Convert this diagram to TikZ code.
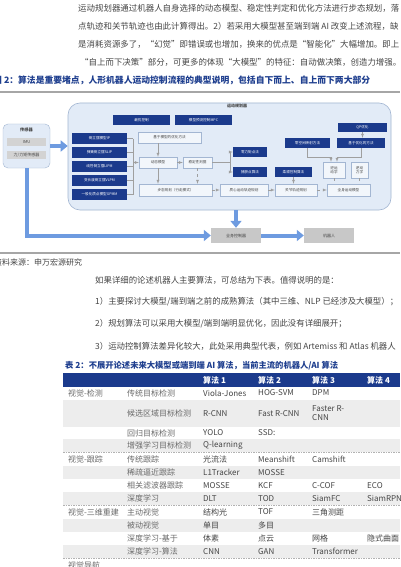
\documentclass[tikz,border=0pt]{standalone}
\usepackage{fontspec}
\setmainfont{Noto Sans CJK SC}
\usetikzlibrary{positioning,arrows.meta}

\definecolor{navy}{HTML}{1B3A8C}
\definecolor{panel}{HTML}{E2EBF7}
\definecolor{panelline}{HTML}{A3B6D2}
\definecolor{flowblue}{HTML}{6E9BE0}
\definecolor{boxgray}{HTML}{C8C8C8}
\definecolor{rowgray}{HTML}{EDEDED}
\definecolor{txt}{HTML}{454545}
\definecolor{celltxt}{HTML}{6A6A6A}
\definecolor{captxt}{HTML}{1F3F8F}

\tikzset{
  navybox/.style={fill=navy,text=white,inner sep=0pt,font=\fontsize{3.6}{4.2}\selectfont},
  lightbox/.style={fill=white!55!panel,draw=panelline,line width=0.4pt,inner sep=0pt,text=txt,align=center,font=\fontsize{3.6}{4.2}\selectfont},
  graybox/.style={fill=boxgray,inner sep=0pt,text=txt,font=\fontsize{4}{5}\selectfont},
  flow/.style={draw=flowblue,line width=4pt,-{Triangle[length=7pt,width=11pt]}},
  link/.style={draw=gray!75,line width=0.4pt},
  body/.style={anchor=west,inner sep=0pt,text=txt,font=\fontsize{8.45}{10}\selectfont},
  cell/.style={anchor=west,inner sep=0pt,text=celltxt,align=left,font=\fontsize{8}{9}\selectfont}
}

\begin{document}
\begin{tikzpicture}[x=1pt,y=-1pt]
  \useasboundingbox[fill=white] (0,0) rectangle (400,567);

  % text above the figure
  \node[body] (p1) at (78,8) {运动规划器通过机器人自身选择的动态模型、稳定性判定和优化方法进行步态规划，落};
  \node[body] (p2) at (78,26) {点轨迹和关节轨迹也由此计算得出。2）若采用大模型甚至端到端 AI 改变上述流程，缺};
  \node[body] (p3) at (78,44) {是消耗资源多了，“幻觉”即错误或也增加，换来的优点是“智能化”大幅增加。即上};
  \node[body] (p4) at (80,62) {“自上而下决策”部分，可更多的体现“大模型”的特征：自动做决策，创造力增强。};

  \node[body,text=captxt,font=\bfseries\fontsize{8.8}{10}\selectfont] (cap) at (-7,80)
    {图 2：算法是重要堵点，人形机器人运动控制流程的典型说明，包括自下而上、自上而下两大部分};
  \draw[gray!70,line width=1.2pt] (0,92) -- (400,92);

  % sensors
  \node[fill=panel,draw=panelline,rounded corners=5pt,minimum width=47,minimum height=44] (sensor) at (26.5,146) {};
  \node[inner sep=0pt,text=txt,font=\bfseries\fontsize{4.2}{5}\selectfont] (sensortitle) at (26.5,130) {传感器};
  \node[graybox,fill=boxgray!80,minimum width=39,minimum height=8] (imu) at (26.5,142) {IMU};
  \node[graybox,fill=boxgray!80,minimum width=39,minimum height=8] (force) at (26.5,155) {力/力矩传感器};

  % motion planner
  \node[fill=panel,draw=panelline,line width=0.6pt,rounded corners=12pt,minimum width=323,minimum height=107] (panel) at (229.5,156.5) {};
  \node[inner sep=0pt,text=txt,font=\bfseries\fontsize{4}{5}\selectfont] (plannertitle) at (237,106) {运动规划器};

  \node[navybox,minimum width=57,minimum height=10] (opt) at (141.5,120) {最优控制};
  \node[navybox,minimum width=57,minimum height=10] (mpc) at (203.5,120) {模型预测控制MPC};

  \foreach \yy/\name [count=\i] in {138.5/倒立摆模型IP, 152.5/弹簧倒立摆SLIP, 166.5/线性倒立摆LIPM, 180.5/变长度倒立摆VLPM, 194.5/一般化质点模型GPMM} {
    \node[navybox,minimum width=55,minimum height=11] (m\i) at (99.5,\yy) {\name};
    \draw[link] (m\i.east) -- ++(6,0);
  }
  \draw[link] (133,138.5) -- (133,194.5);

  \node[lightbox,minimum width=63,minimum height=11] (mbo) at (169.5,137.5) {基于模型的优化方法};
  \node[lightbox,minimum width=38,minimum height=11] (dyn) at (158,162.5) {动态模型};
  \node[lightbox,minimum width=29,minimum height=11] (stab) at (197.5,162.5) {稳定性判据};
  \node[lightbox,minimum width=73,minimum height=12] (gait) at (175.5,190) {步态规划（行走模式）};

  \node[navybox,minimum width=34,minimum height=10] (zmp) at (250,152) {零力矩点法};
  \node[navybox,minimum width=34,minimum height=10] (cp) at (250,172) {捕获点算法};

  \node[lightbox,minimum width=48,minimum height=12] (com) at (244,190) {质心运动轨迹规划};
  \node[lightbox,minimum width=42,minimum height=12] (joint) at (296,190) {关节轨迹规划};
  \node[lightbox,minimum width=43,minimum height=12] (whole) at (348.5,190) {全身运动模型};

  \node[navybox,minimum width=37,minimum height=10] (comp) at (293.5,172) {柔顺控制算法};
  \node[navybox,minimum width=45,minimum height=10] (nsm) at (307.5,143) {零空间映射方法};
  \node[navybox,minimum width=49,minimum height=9] (qp) at (362.5,127.5) {QP优化};
  \node[navybox,minimum width=48,minimum height=10] (obm) at (361,143) {基于优化的方法};
  \node[lightbox,minimum width=22,minimum height=16] (ik) at (334,170) {逆运\\动学};
  \node[lightbox,minimum width=17,minimum height=16] (id) at (359.5,170) {逆动\\力学};

  % thin connectors
  \draw[link,-latex] (133,162.5) -- (dyn.west);
  \draw[link,-latex] (mbo.south -| dyn.north) -- (dyn.north);
  \draw[link,-latex] (dyn.south) -- (dyn.south |- gait.north);
  \draw[link,dashed,-latex] (dyn.east) -- (stab.west);
  \draw[link,dashed,-latex] (stab.south) -- (stab.south |- gait.north);
  \draw[link] (stab.east) -- (230,162.5);
  \draw[link] (230,152) -- (230,172);
  \draw[link,-latex] (230,152) -- (zmp.west);
  \draw[link,-latex] (230,172) -- (cp.west);
  \draw[link,dashed,-latex] (gait.east) -- (com.west);
  \draw[link,dashed,-latex] (com.east) -- (joint.west);
  \draw[link,dashed,-latex] (joint.east) -- (whole.west);
  \draw[link,-latex] (comp.south) -- (comp.south |- joint.north);
  \draw[link,-latex] (nsm.south) |- (331,157) -- ([xshift=-3pt]ik.north);
  \draw[link,-latex] (obm.south) |- (337,157) -- ([xshift=3pt]ik.north);
  \draw[link,-latex] (qp.south) -- (qp.south |- obm.north);
  \draw[link,dashed] (ik.south) -- (ik.south |- whole.north);
  \draw[link,dashed] (id.south) -- (id.south |- whole.north);

  % whole body control
  \node[graybox,minimum width=50,minimum height=15] (wbc) at (236,235.5) {全身控制器};
  \node[graybox,minimum width=50,minimum height=15] (robot) at (329,235.5) {机器人};

  \draw[flow] (sensor.east) -- (sensor.east -| panel.west);
  \draw[flow] (panel.south -| wbc.north) -- (wbc.north);
  \draw[flow] (sensor.south) |- (wbc.west);
  \draw[flow] (wbc.east) -- (robot.west);

  \draw[gray!70,line width=1.2pt] (0,253) -- (400,253);
  \node[body,font=\fontsize{8}{9}\selectfont] (src) at (-6,262) {资料来源：申万宏源研究};

  % text below the figure
  \node[body,font=\fontsize{8.4}{9.5}\selectfont] (q1) at (95,280) {如果详细的论述机器人主要算法，可总结为下表。值得说明的是：};
  \node[body,font=\fontsize{8.4}{9.5}\selectfont] (q2) at (95,302) {1）主要探讨大模型/端到端之前的成熟算法（其中三维、NLP 已经涉及大模型）；};
  \node[body,font=\fontsize{8.4}{9.5}\selectfont] (q3) at (95,324) {2）规划算法可以采用大模型/端到端明显优化，因此没有详细展开；};
  \node[body,font=\fontsize{8.4}{9.5}\selectfont] (q4) at (95,346) {3）运动控制算法差异化较大，此处采用典型代表，例如 Artemiss 和 Atlas 机器人};

  % table
  \node[body,text=captxt,font=\bfseries\fontsize{8.3}{9.5}\selectfont] (tabtitle) at (65,366)
    {表 2：不展开论述未来大模型或端到端 AI 算法，当前主流的机器人/AI 算法};
  \fill[navy] (63,373) rectangle (400,387);
  \foreach \xx/\head [count=\i] in {203/算法 1, 258/算法 2, 312/算法 3, 367/算法 4}
    \node[cell,text=white,font=\bfseries\fontsize{8}{9}\selectfont] (head\i) at (\xx,380) {\head};

  \foreach \top/\bot in {400/427, 439/452, 466/479, 492/505, 519/532, 545/558}
    \fill[rowgray] (63,\top) rectangle (400,\bot);
  \foreach \yy in {452,505,558}
    \draw[gray!60,line width=0.5pt,dash pattern=on 1.5pt off 1pt] (63,\yy) -- (400,\yy);

  \foreach \yy/\ga/\gb/\a/\b/\c/\d [count=\i] in {
      393/视觉-检测/传统目标检测/Viola-Jones/HOG-SVM/DPM/,
      413.5//候选区域目标检测/R-CNN/Fast R-CNN/{Faster R-\\CNN}/,
      433//回归目标检测/YOLO/SSD:{}//,
      445.5//增强学习目标检测/Q-learning///,
      459/视觉-跟踪/传统跟踪/光流法/Meanshift/Camshift/,
      472.5//稀疏逼近跟踪/L1Tracker/MOSSE//,
      485.5//相关滤波器跟踪/MOSSE/KCF/C-COF/ECO,
      498.5//深度学习/DLT/TOD/SiamFC/SiamRPN,
      512/视觉-三维重建/主动视觉/结构光/TOF/三角测距/,
      525.5//被动视觉/单目/多目//,
      538.5//深度学习-基于/体素/点云/网格/隐式曲面,
      551.5//深度学习-算法/CNN/GAN/Transformer/,
      565/视觉导航/////} {
    \node[cell] (c\i-1) at (68,\yy) {\ga};
    \node[cell] (c\i-2) at (127,\yy) {\gb};
    \node[cell,text=txt] (c\i-3) at (203,\yy) {\a};
    \node[cell,text=txt] (c\i-4) at (258,\yy) {\b};
    \node[cell,text=txt] (c\i-5) at (312,\yy) {\c};
    \node[cell,text=txt] (c\i-6) at (367,\yy) {\d};
  }
\end{tikzpicture}
\end{document}
